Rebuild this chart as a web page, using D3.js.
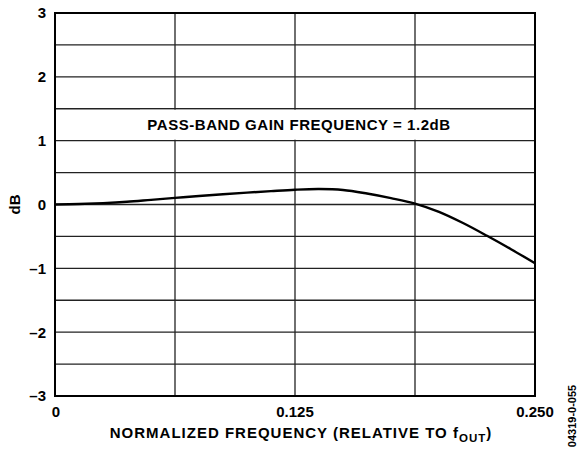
<!DOCTYPE html>
<html><head><meta charset="utf-8">
<script src="https://cdn.jsdelivr.net/npm/d3@7"></script>
<style>body{margin:0;background:#fff}svg{display:block}text{font-family:"Liberation Sans",Arial,sans-serif;font-weight:bold;fill:#000}</style>
</head><body>
<script>
const freq = [0,0.0125,0.025,0.0375,0.05,0.0625,0.075,0.0875,0.1,0.1125,0.125,0.1375,0.15,0.1625,0.175,0.1875,0.2,0.2125,0.225,0.2375,0.25];
const gainDb = [0,0.008,0.022,0.043,0.073,0.103,0.133,0.16,0.186,0.21,0.232,0.243,0.228,0.172,0.1,0.015,-0.115,-0.29,-0.49,-0.7,-0.92];
const yTicks = [-3,-2,-1,0,1,2,3];
const yGrid = [-2.5,-2,-1.5,-1,-0.5,0,0.5,1,1.5,2,2.5];
const xTicks = [0,0.125,0.25];
const xTickLabels = ["0","0.125","0.250"];
const xGrid = [0.0625,0.125,0.1875];
const annotation = "PASS-BAND GAIN FREQUENCY = 1.2dB";
const yTitle = "dB";
const xTitleMain = "NORMALIZED FREQUENCY (RELATIVE TO f";
const xTitleSub = "OUT";
const figId = "04319-0-055";

const W=578,H=449, L=55,R=535,T=13,B=396;
const svg=d3.select("body").append("svg").attr("width",W).attr("height",H);
const x=d3.scaleLinear().domain([0,0.25]).range([L,R]);
const y=d3.scaleLinear().domain([-3,3]).range([B,T]);

const g=svg.append("g");
g.selectAll("line.h").data(yGrid).join("line").attr("class","h")
 .attr("x1",L).attr("x2",R).attr("y1",d=>y(d)).attr("y2",d=>y(d))
 .attr("stroke","#222").attr("stroke-width",1.3);
g.selectAll("line.v").data(xGrid).join("line").attr("class","v")
 .attr("y1",T).attr("y2",B).attr("x1",d=>x(d)).attr("x2",d=>x(d))
 .attr("stroke","#222").attr("stroke-width",1.3);

// annotation with white background
const annY=(y(1.5)+y(1))/2;
svg.append("rect").attr("x",x(0.0625)-35).attr("width",x(0.1875)-x(0.0625)+70)
 .attr("y",y(1.5)+1).attr("height",y(1)-y(1.5)-2).attr("fill","#fff");
svg.append("text").attr("x",x(0.125)+4).attr("y",annY).attr("dy","0.36em")
 .attr("text-anchor","middle").style("font-size","15px").style("letter-spacing","0.55px").text(annotation);

// curve
svg.append("path").datum(freq.map((f,i)=>[f,gainDb[i]]))
 .attr("d",d3.line().x(d=>x(d[0])).y(d=>y(d[1])).curve(d3.curveCatmullRom.alpha(0.5)))
 .attr("fill","none").attr("stroke","#000").attr("stroke-width",2.4);

// frame
svg.append("rect").attr("x",L).attr("y",T).attr("width",R-L).attr("height",B-T)
 .attr("fill","none").attr("stroke","#000").attr("stroke-width",2);

// y ticks
svg.selectAll("text.yt").data(yTicks).join("text").attr("class","yt")
 .attr("x",L-9).attr("y",d=>y(d)).attr("dy","0.36em").attr("text-anchor","end")
 .style("font-size","15px").text(d=>d<0?"\u2013"+(-d):d);
// x ticks
svg.selectAll("text.xt").data(xTicks).join("text").attr("class","xt")
 .attr("x",d=>x(d)+(d===0?1:0)).attr("y",417).attr("text-anchor","middle")
 .style("font-size","15px").text((d,i)=>xTickLabels[i]);

// titles
svg.append("text").attr("transform",`translate(20,${y(0)}) rotate(-90)`)
 .attr("text-anchor","middle").style("font-size","15px").text(yTitle);
const xt=svg.append("text").attr("x",(L+R)/2+6).attr("y",438).attr("text-anchor","middle")
 .style("font-size","15px").style("letter-spacing","1px");
xt.append("tspan").text(xTitleMain);
xt.append("tspan").attr("dy",4).style("font-size","11.5px").text(xTitleSub);
xt.append("tspan").attr("dy",-4).text(")");

svg.append("text").attr("transform","translate(576,416) rotate(-90)")
 .attr("text-anchor","middle").style("font-size","11px").text(figId);
</script>
</body></html>
